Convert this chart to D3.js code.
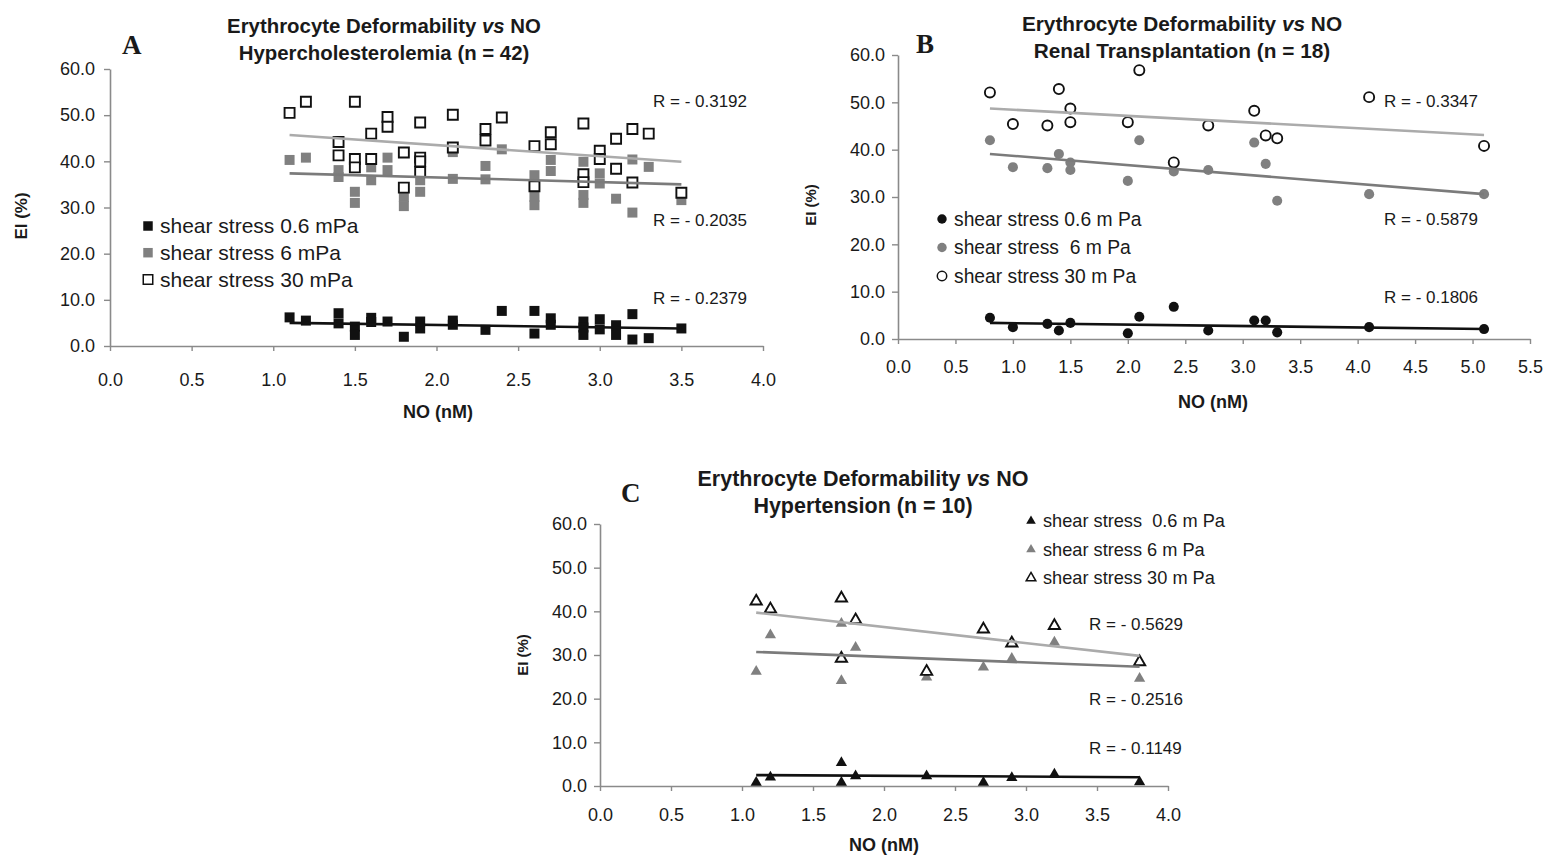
<!DOCTYPE html>
<html>
<head>
<meta charset="utf-8">
<script src="https://cdn.jsdelivr.net/npm/d3@7"></script>
<style>
body{margin:0;background:#fff;}
svg text{font-family:"Liberation Sans",Arial,sans-serif;fill:#1a1a1a;}
</style>
</head>
<body>
<div id="canvas"></div>
<script>
// ---- data: [NO (nM), EI (%)] ----
// A: hypercholesterolemia
var aLow = [[1.1,6.2],[1.2,5.5],[1.4,7.1],[1.4,4.9],[1.5,4.2],[1.5,2.4],[1.6,6.1],[1.6,5.2],[1.7,5.3],[1.8,2.0],[1.9,5.3],[1.9,3.8],[2.1,5.5],[2.1,4.6],[2.3,3.5],[2.4,7.6],[2.6,7.6],[2.6,2.7],[2.7,6.0],[2.7,4.6],[2.9,5.3],[2.9,4.0],[2.9,2.4],[3.0,5.8],[3.0,3.6],[3.1,4.5],[3.1,2.4],[3.2,6.9],[3.2,1.4],[3.3,1.7],[3.5,3.8]];
var aMid = [[1.1,40.3],[1.2,40.8],[1.4,38.1],[1.4,36.6],[1.5,33.4],[1.5,31.0],[1.6,38.7],[1.6,35.9],[1.7,40.8],[1.7,38.1],[1.8,32.3],[1.8,30.3],[1.9,35.9],[1.9,33.4],[2.1,42.0],[2.1,36.2],[2.3,39.0],[2.3,36.1],[2.4,42.6],[2.6,37.0],[2.6,32.3],[2.6,30.5],[2.7,40.3],[2.7,37.9],[2.9,39.9],[2.9,32.7],[2.9,31.0],[3.0,37.4],[3.0,35.2],[3.1,31.9],[3.2,40.4],[3.2,28.9],[3.3,38.8],[3.5,31.6]];
var aHigh = [[1.1,50.5],[1.2,52.9],[1.4,44.2],[1.4,41.3],[1.5,52.9],[1.5,40.5],[1.5,38.7],[1.6,46.0],[1.6,40.5],[1.7,49.6],[1.7,47.5],[1.8,41.9],[1.8,34.3],[1.9,48.4],[1.9,40.8],[1.9,40.0],[1.9,37.7],[2.1,50.1],[2.1,43.0],[2.3,47.0],[2.3,44.5],[2.4,49.5],[2.6,43.3],[2.6,34.6],[2.7,46.3],[2.7,43.7],[2.9,48.2],[2.9,37.2],[2.9,35.5],[3.0,42.3],[3.0,40.5],[3.1,44.9],[3.1,38.4],[3.2,47.0],[3.2,35.4],[3.3,46.0],[3.5,33.2]];
var aLowFit = [[1.1,5.0],[3.5,3.8]];
var aMidFit = [[1.1,37.4],[3.5,35.0]];
var aHighFit = [[1.1,45.7],[3.5,39.9]];
var aR = ['R = - 0.3192','R = - 0.2035','R = - 0.2379'];
var aLegend = ['shear stress 0.6 mPa','shear stress 6 mPa','shear stress 30 mPa'];

// B: renal transplantation
var bLow = [[0.8,4.5],[1.0,2.5],[1.3,3.2],[1.4,1.8],[1.5,3.4],[2.0,1.2],[2.1,4.7],[2.4,6.8],[2.7,1.8],[3.1,3.9],[3.2,3.9],[3.3,1.4],[4.1,2.5],[5.1,2.1]];
var bMid = [[0.8,42.0],[1.0,36.3],[1.3,36.1],[1.4,39.1],[1.5,37.3],[1.5,35.7],[2.0,33.4],[2.1,42.0],[2.4,35.4],[2.7,35.7],[3.1,41.5],[3.2,37.0],[3.3,29.2],[4.1,30.6],[5.1,30.6]];
var bHigh = [[0.8,52.1],[1.0,45.4],[1.3,45.1],[1.4,52.8],[1.5,48.7],[1.5,45.8],[2.0,45.8],[2.1,56.8],[2.4,37.3],[2.7,45.1],[3.1,48.2],[3.2,43.0],[3.3,42.4],[4.1,51.1],[5.1,40.8]];
var bLowFit = [[0.8,3.4],[5.1,2.1]];
var bMidFit = [[0.8,39.1],[5.1,30.6]];
var bHighFit = [[0.8,48.7],[5.1,43.1]];
var bR = ['R = - 0.3347','R = - 0.5879','R = - 0.1806'];
var bLegend = ['shear stress 0.6 m Pa','shear stress  6 m Pa','shear stress 30 m Pa'];

// C: hypertension
var cLow = [[1.1,0.8],[1.2,2.0],[1.7,5.3],[1.7,0.8],[1.8,2.3],[2.3,2.3],[2.7,0.8],[2.9,1.9],[3.2,2.7],[3.8,0.9]];
var cMid = [[1.1,26.2],[1.2,34.6],[1.7,37.2],[1.7,24.1],[1.8,31.7],[2.3,24.9],[2.7,27.2],[2.9,29.2],[3.2,32.9],[3.8,24.6]];
var cHigh = [[1.1,42.3],[1.2,40.5],[1.7,43.0],[1.7,29.2],[1.8,38.0],[2.3,26.2],[2.7,35.9],[2.9,32.7],[3.2,36.7],[3.8,28.4]];
var cLowFit = [[1.1,2.5],[3.8,2.0]];
var cMidFit = [[1.1,30.7],[3.8,27.3]];
var cHighFit = [[1.1,39.7],[3.8,29.8]];
var cR = ['R = - 0.5629','R = - 0.2516','R = - 0.1149'];
var cLegend = ['shear stress  0.6 m Pa','shear stress 6 m Pa','shear stress 30 m Pa'];

var yTicks = [0,10,20,30,40,50,60];
var xTicks4 = [0,0.5,1,1.5,2,2.5,3,3.5,4];
var xTicks55 = [0,0.5,1,1.5,2,2.5,3,3.5,4,4.5,5,5.5];
var titleTop = 'Erythrocyte Deformability ';
var subtitles = ['Hypercholesterolemia (n = 42)','Renal Transplantation (n = 18)','Hypertension (n = 10)'];

// ---- drawing ----
var W = 1549, H = 857;
var svg = d3.select('#canvas').append('svg')
    .attr('width',W).attr('height',H);

var BLACK = '#111', MID = '#808080', LINE_HI = '#ababab', LINE_MID = '#7b7b7b';

function marker(type, size){
    return d3.symbol().type(type).size(size);
}

function drawPanel(p){
    var g = svg.append('g');
    var x = d3.scaleLinear().domain([0,p.xMax]).range([p.left,p.right]);
    var y = d3.scaleLinear().domain([0,60]).range([p.bottom,p.top]);

    // axes
    var ax = g.append('g').attr('transform','translate(0,'+p.bottom+')')
        .call(d3.axisBottom(x).tickValues(p.xTicks).tickFormat(d3.format('.1f'))
            .tickSize(5).tickSizeOuter(0).tickPadding(p.xPad));
    var ay = g.append('g').attr('transform','translate('+p.left+',0)')
        .call(d3.axisLeft(y).tickValues(yTicks).tickFormat(d3.format('.1f'))
            .tickSize(6).tickSizeOuter(0).tickPadding(p.yPad));
    [ax,ay].forEach(function(a){
        a.select('.domain').attr('stroke','#8a8a8a').attr('stroke-width',1.6);
        a.selectAll('.tick line').attr('stroke','#8a8a8a').attr('stroke-width',1.4);
        a.selectAll('text').attr('font-size',18).attr('fill','#1a1a1a')
            .attr('font-family','"Liberation Sans",Arial,sans-serif');
    });

    // points: 0.6, 6, 30 mPa
    var series = [
        {pts:p.low, fill:BLACK, stroke:'none'},
        {pts:p.mid, fill:MID, stroke:'none'},
        {pts:p.high, fill:'#fff', stroke:BLACK}
    ];
    series.forEach(function(s){
        g.append('g').selectAll('path').data(s.pts).enter().append('path')
            .attr('d', marker(p.shape, p.size))
            .attr('transform', function(d){ return 'translate('+x(d[0])+','+y(d[1])+')'; })
            .attr('fill', s.fill)
            .attr('stroke', s.stroke)
            .attr('stroke-width', 1.9);
    });

    // trend lines
    var line = d3.line().x(function(d){return x(d[0]);}).y(function(d){return y(d[1]);});
    [[p.highFit,LINE_HI],[p.midFit,LINE_MID],[p.lowFit,BLACK]].forEach(function(f){
        g.append('path').datum(f[0]).attr('d',line)
            .attr('fill','none').attr('stroke',f[1]).attr('stroke-width',2.6);
    });

    // R labels
    p.r.forEach(function(t,i){
        g.append('text').attr('x',p.rx).attr('y',p.ry[i]).attr('dy','0.35em')
            .attr('font-size',17).text(t);
    });

    // legend
    var fills = [BLACK, MID, '#fff'];
    p.legend.forEach(function(t,i){
        var ly = p.legY + i*p.legGap;
        g.append('path').attr('d', marker(p.shape, p.legSize))
            .attr('transform','translate('+p.legX+','+ly+')')
            .attr('fill',fills[i]).attr('stroke', i==2 ? BLACK : 'none').attr('stroke-width',1.5);
        g.append('text').attr('x',p.legX+12).attr('y',ly).attr('dy','0.35em')
            .attr('font-size',p.legFont).style('white-space','pre').text(t);
    });

    // titles
    var t1 = g.append('text').attr('x',p.titleX).attr('y',p.titleY).attr('text-anchor','middle')
        .attr('font-size',p.titleFont).attr('font-weight','bold');
    t1.append('tspan').text(titleTop);
    t1.append('tspan').attr('font-style','italic').text('vs');
    t1.append('tspan').text(' NO');
    g.append('text').attr('x',p.titleX).attr('y',p.titleY+27).attr('text-anchor','middle')
        .attr('font-size',p.titleFont).attr('font-weight','bold').text(p.sub);

    // panel letter
    g.append('text').attr('x',p.letterX).attr('y',p.letterY)
        .style('font-family','"Liberation Serif","Times New Roman",serif')
        .attr('font-size',27).attr('font-weight','bold').text(p.letter);

    // axis titles
    g.append('text').attr('x',p.xtX).attr('y',p.xtY).attr('text-anchor','middle')
        .attr('font-size',18).attr('font-weight','bold').text('NO (nM)');
    g.append('text').attr('transform','translate('+p.ytX+','+p.ytY+') rotate(-90)')
        .attr('text-anchor','middle').attr('font-size',p.ytFont).attr('font-weight','bold').text('EI (%)');
}

drawPanel({
    left:110, right:763, bottom:346, top:69, xMax:4, xTicks:xTicks4, xPad:22, yPad:9,
    low:aLow, mid:aMid, high:aHigh, lowFit:aLowFit, midFit:aMidFit, highFit:aHighFit,
    shape:d3.symbolSquare, size:100, legSize:90,
    r:aR, rx:653, ry:[101,220,298],
    legend:aLegend, legX:148, legY:226, legGap:26.7, legFont:21,
    titleX:384, titleY:33, titleFont:20.4, sub:subtitles[0], letter:'A', letterX:122, letterY:54,
    xtX:438, xtY:418, ytX:27, ytY:216, ytFont:17
});
drawPanel({
    left:898, right:1530, bottom:339, top:55, xMax:5.5, xTicks:xTicks55, xPad:16, yPad:7,
    low:bLow, mid:bMid, high:bHigh, lowFit:bLowFit, midFit:bMidFit, highFit:bHighFit,
    shape:d3.symbolCircle, size:80, legSize:70,
    r:bR, rx:1384, ry:[101,219,297],
    legend:bLegend, legX:942, legY:219, legGap:28.5, legFont:19.3,
    titleX:1182, titleY:30.5, titleFont:20.8, sub:subtitles[1], letter:'B', letterX:916, letterY:53,
    xtX:1213, xtY:408, ytX:816, ytY:205, ytFont:15
});
drawPanel({
    left:600, right:1168, bottom:786, top:524, xMax:4, xTicks:xTicks4, xPad:17, yPad:7,
    low:cLow, mid:cMid, high:cHigh, lowFit:cLowFit, midFit:cMidFit, highFit:cHighFit,
    shape:d3.symbolTriangle, size:55, legSize:40,
    r:cR, rx:1089, ry:[624,699,748],
    legend:cLegend, legX:1031, legY:521, legGap:28.5, legFont:18.2,
    titleX:863, titleY:485.5, titleFont:21.5, sub:subtitles[2], letter:'C', letterX:621, letterY:502,
    xtX:884, xtY:851, ytX:528, ytY:655, ytFont:15
});
</script>
</body>
</html>
